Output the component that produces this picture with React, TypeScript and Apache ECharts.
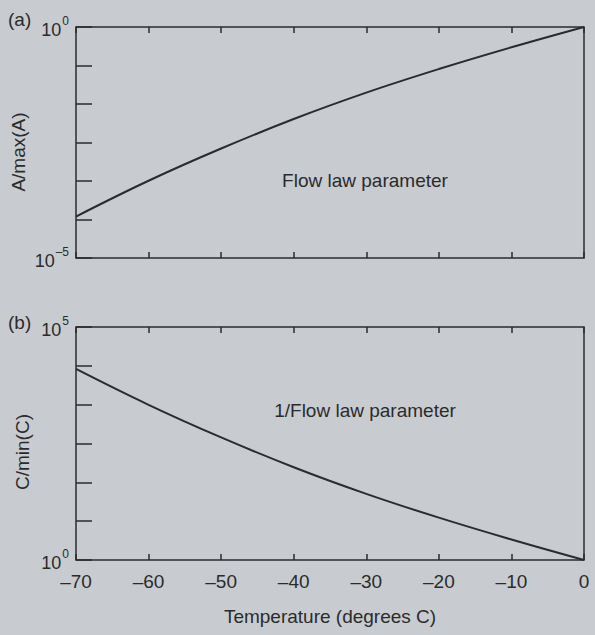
import React, { useEffect, useRef } from 'react';
import * as echarts from 'echarts';

// Temperature (degrees C)
const temperature = [-70, -60, -50, -40, -30, -20, -10, 0];
// A / max(A), panel (a)
const flowLawRatio = [7.9e-5, 4.7e-4, 2.34e-3, 1.02e-2, 3.8e-2, 0.123, 0.363, 1];
// C / min(C), panel (b)
const inverseFlowLawRatio = [12600, 2140, 427, 98, 26.3, 8.1, 2.75, 1];

const FONT = '"Liberation Sans", Arial, Helvetica, sans-serif';
const INK = '#2b2b2b';
const BG = '#c8ccd0';

const supRich = {
  b: { fontSize: 18, color: INK, fontFamily: FONT, lineHeight: 24, verticalAlign: 'bottom' as const },
  s: { fontSize: 12, color: INK, fontFamily: FONT, lineHeight: 24, verticalAlign: 'top' as const, padding: [0, 0, 0, 1] },
};

function tickAxisX(gridIndex: number, position: 'top' | 'bottom', labels: boolean) {
  return {
    gridIndex,
    type: 'value',
    min: -70,
    max: 0,
    interval: 10,
    position,
    axisLine: { show: false, onZero: false },
    axisTick: { show: true, inside: true, length: 6, lineStyle: { color: INK, width: 1.5 } },
    splitLine: { show: false },
    axisLabel: labels
      ? {
          show: true,
          fontSize: 19,
          color: INK,
          fontFamily: FONT,
          margin: 12,
          formatter: (v: number) => String(v).replace('-', '\u2013'),
        }
      : { show: false },
    ...(labels
      ? {
          name: 'Temperature (degrees C)',
          nameLocation: 'middle',
          nameGap: 47,
          nameTextStyle: { fontSize: 19, color: INK, fontFamily: FONT },
        }
      : {}),
  };
}

function tickAxisY(gridIndex: number, topExp: string, bottomExp: string) {
  return {
    gridIndex,
    type: 'value',
    min: 0,
    max: 6,
    interval: 1,
    position: 'left',
    axisLine: { show: false, onZero: false },
    axisTick: { show: true, inside: true, length: 16, lineStyle: { color: INK, width: 1.5 } },
    splitLine: { show: false },
    axisLabel: {
      show: true,
      margin: 7,
      formatter: (v: number) =>
        v === 6 ? `{b|10}{s|${topExp}}` : v === 0 ? `{b|10}{s|${bottomExp}}` : '',
      rich: supRich,
    },
  };
}

export default function App() {
  const ref = useRef<HTMLDivElement>(null);
  useEffect(() => {
    document.body.style.margin = '0';
    document.body.style.background = BG;
    const chart = echarts.init(ref.current!, undefined, { renderer: 'svg' });
    const option = {
      animation: false,
      backgroundColor: BG,
      textStyle: { fontFamily: FONT },
      grid: [
        { left: 76, right: 11, top: 27, height: 231, show: true, borderColor: INK, borderWidth: 1.5, backgroundColor: 'transparent' },
        { left: 76, right: 11, top: 327, height: 233, show: true, borderColor: INK, borderWidth: 1.5, backgroundColor: 'transparent' },
      ],
      xAxis: [
        tickAxisX(0, 'bottom', false),
        tickAxisX(0, 'top', false),
        tickAxisX(1, 'bottom', true),
        tickAxisX(1, 'top', false),
      ],
      yAxis: [
        { gridIndex: 0, type: 'log', logBase: 10, min: 1e-5, max: 1, position: 'right', show: false, axisLine: { onZero: false } },
        tickAxisY(0, '0', '\u20135'),
        { gridIndex: 1, type: 'log', logBase: 10, min: 1, max: 1e5, position: 'right', show: false, axisLine: { onZero: false } },
        tickAxisY(1, '5', '0'),
      ],
      series: [
        {
          type: 'line',
          xAxisIndex: 0,
          yAxisIndex: 0,
          data: temperature.map((t, i) => [t, flowLawRatio[i]]),
          showSymbol: false,
          smooth: 0.4,
          lineStyle: { color: INK, width: 2 },
        },
        {
          type: 'line',
          xAxisIndex: 2,
          yAxisIndex: 2,
          data: temperature.map((t, i) => [t, inverseFlowLawRatio[i]]),
          showSymbol: false,
          smooth: 0.4,
          lineStyle: { color: INK, width: 2 },
        },
      ],
      graphic: [
        { type: 'text', left: 8, top: 10, style: { text: '(a)', fontSize: 19, fill: INK, fontFamily: FONT } },
        { type: 'text', left: 8, top: 313, style: { text: '(b)', fontSize: 19, fill: INK, fontFamily: FONT } },
        {
          type: 'text', x: 18, y: 152, rotation: Math.PI / 2,
          style: { text: 'A/max(A)', fontSize: 19, fill: INK, fontFamily: FONT, align: 'center', verticalAlign: 'middle' },
        },
        {
          type: 'text', x: 22, y: 452, rotation: Math.PI / 2,
          style: { text: 'C/min(C)', fontSize: 19, fill: INK, fontFamily: FONT, align: 'center', verticalAlign: 'middle' },
        },
        {
          type: 'text', x: 365, y: 180,
          style: { text: 'Flow law parameter', fontSize: 19, fill: INK, fontFamily: FONT, align: 'center', verticalAlign: 'middle' },
        },
        {
          type: 'text', x: 365, y: 410,
          style: { text: '1/Flow law parameter', fontSize: 19, fill: INK, fontFamily: FONT, align: 'center', verticalAlign: 'middle' },
        },
      ],
    };
    chart.setOption(option as any);
    return () => chart.dispose();
  }, []);
  return <div ref={ref} style={{ position: 'absolute', left: 0, top: 0, width: 595, height: 635 }} />;
}
